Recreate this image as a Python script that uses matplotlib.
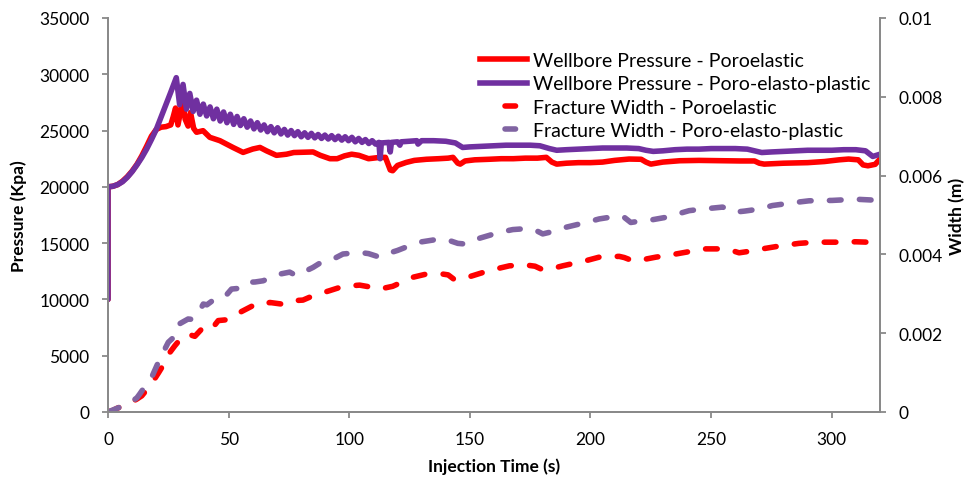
import matplotlib
matplotlib.use("Agg")
import matplotlib.pyplot as plt
from matplotlib.lines import Line2D

plt.rcParams['font.family'] = ['Lato', 'DejaVu Sans']

# ---- wellbore pressure, poroelastic model (s, kPa)
t_p_poro = [0, 0, 2, 4, 6, 8, 10, 12, 14, 16, 18, 20, 22, 24, 26, 27, 28, 29,
            30.9, 32, 33.2, 34.2, 35.5, 36.7, 39.4, 42.2, 46.4, 51.8, 56, 60, 63,
            65.7, 69.8, 74, 77, 85, 88, 92, 95, 98, 101, 104, 108, 112, 115, 117,
            118, 120, 123.6, 127, 132, 137, 141, 143, 145, 146, 148, 152, 158, 163,
            168, 173, 178, 181.7, 184, 186, 190, 195, 200, 205, 210, 216, 221, 223,
            225, 230, 237, 245, 255, 262, 268, 270, 272, 280, 290, 297, 303, 307,
            311, 313, 315, 318, 320]
p_poro = [10000, 20000, 20050, 20200, 20500, 20900, 21400, 22000, 22750, 23600,
          24500, 25100, 25300, 25350, 25500, 26200, 27000, 25500, 27650, 26000,
          25400, 26600, 25200, 24850, 24990, 24400, 24100, 23500, 23060, 23360,
          23500, 23200, 22800, 22900, 23050, 23100, 22800, 22500, 22500, 22750,
          22900, 22800, 22500, 22600, 22620, 21500, 21430, 21900, 22170, 22350,
          22450, 22500, 22550, 22620, 22100, 22020, 22300, 22400, 22450, 22500,
          22500, 22550, 22550, 22620, 22200, 22020, 22100, 22150, 22150, 22200,
          22350, 22470, 22450, 22200, 22020, 22200, 22320, 22350, 22320, 22300,
          22300, 22100, 22020, 22100, 22150, 22250, 22400, 22470, 22400, 21950,
          21870, 22000, 22470]

# ---- wellbore pressure, poro-elasto-plastic model (s, kPa)
t_p_pep = [0, 0, 2, 4, 6, 8, 10, 12, 14, 16, 18, 20, 22, 24, 26,
           28.3, 29.7, 31.1, 32.5, 33.9, 35.3, 36.7, 38.1, 39.5, 40.9, 42.3, 43.7,
           45.1, 46.5, 47.9, 49.3, 50.7, 52.1, 53.5, 54.9, 56.3, 57.7, 59.1, 60.5,
           61.9, 63.3, 64.7, 66.1, 67.5, 68.9, 70.3, 71.7, 73.1, 74.5, 75.9, 77.3,
           78.7, 80.1, 81.5, 82.9, 84.3, 85.7, 87.1, 88.5, 89.9, 91.3, 92.7, 94.1,
           95.5, 96.9, 98.3, 99.7, 101.1, 102.5, 103.9, 105.3, 106.7, 108.1, 109.5,
           110.9, 112.3, 112.8, 113.3, 116.5, 117.0, 117.5, 120, 121, 121.5, 125,
           128, 128.5, 130, 135, 140, 144, 147, 150, 155, 160, 165, 170, 175, 179,
           183, 186, 190, 195, 200, 205, 210, 215, 220, 223, 226, 230, 235, 240,
           245, 250, 255, 260, 265, 268, 271, 275, 280, 285, 290, 295, 300, 305,
           310, 314, 317, 320]
p_pep = [10000, 20000, 20050, 20200, 20450, 20850, 21350, 21950, 22600, 23350,
         24200, 25100, 26200, 27300, 28400,
         29700, 27300, 29100, 26900, 28300, 26700, 27700, 26450, 27350, 26300,
         27100, 26050, 26900, 25850, 26650, 25700, 26450, 25550, 26250, 25450,
         26050, 25300, 25850, 25150, 25700, 25050, 25500, 24900, 25350, 24800,
         25250, 24700, 25100, 24600, 25000, 24550, 24900, 24450, 24800, 24400,
         24750, 24350, 24650, 24300, 24600, 24250, 24550, 24200, 24500, 24150,
         24450, 24100, 24400, 24000, 24300, 23950, 24200, 23850, 24100, 23800,
         23950, 22500, 23900, 23950, 23100, 23950, 24000, 23700, 24000, 24050,
         24100, 23800, 24100, 24100, 24050, 23900, 23500, 23550, 23600, 23650,
         23700, 23700, 23700, 23650, 23400, 23250, 23300, 23350, 23400, 23450,
         23450, 23450, 23400, 23250, 23150, 23200, 23300, 23350, 23350, 23400,
         23400, 23400, 23350, 23200, 23050, 23100, 23150, 23200, 23250, 23250,
         23250, 23300, 23300, 23200, 22700, 22900]

# ---- fracture width, poroelastic model (s, m)
t_w_poro = [0, 2, 4, 6, 8, 10, 12, 14, 16, 18.8, 21, 23.6, 25.5, 27.7, 30, 32.6,
            34, 36, 39.5, 42.9, 45.7, 49.1, 51.9, 56, 60.1, 64.3, 67, 71.9, 75.3,
            80.8, 85, 91.9, 96, 100, 104.3, 108, 112.6, 118, 122, 126.4, 131.9,
            138.8, 141, 143.6, 147, 151.2, 158, 166.4, 173.3, 177, 180.2, 184,
            188.5, 198.1, 203.6, 211.9, 214, 217.4, 222, 227.1, 232.6, 240.9,
            247.8, 256.1, 258, 261.6, 266, 271.2, 278.1, 286.4, 293.3, 301.6, 310,
            320]
w_poro = [0, 0.00004, 0.0001, 0.00015, 0.0002, 0.00026, 0.00033, 0.00041,
          0.00056, 0.00079, 0.001, 0.00126, 0.0015, 0.00168, 0.00185, 0.00198,
          0.00196, 0.00192, 0.00215, 0.0021, 0.00232, 0.00234, 0.00244, 0.00257,
          0.0027, 0.0027, 0.00278, 0.00274, 0.00282, 0.00284, 0.00295, 0.00308,
          0.00316, 0.0032, 0.00322, 0.00318, 0.00312, 0.00319, 0.0033, 0.00342,
          0.0035, 0.0035, 0.00348, 0.00336, 0.00338, 0.00346, 0.00359, 0.00371,
          0.00373, 0.0037, 0.00361, 0.00364, 0.00371, 0.00384, 0.00393, 0.00395,
          0.00392, 0.00384, 0.00387, 0.00393, 0.00398, 0.00407, 0.00414, 0.00414,
          0.00411, 0.00404, 0.00408, 0.00414, 0.00421, 0.00428, 0.00431, 0.00431,
          0.00432, 0.0043]

# ---- fracture width, poro-elasto-plastic model (s, m)
t_w_pep = [0, 2, 4, 6, 8, 10, 12, 13.2, 15, 18.1, 21.5, 25, 27.3, 28, 28.4, 30,
           33.2, 35, 38, 39.5, 41, 44.3, 48.4, 51.2, 54.6, 57.4, 61, 64.3, 67.8,
           71.2, 75.3, 78.1, 81, 85, 88.4, 93.3, 97.4, 104.3, 108, 112.6, 115.3,
           120, 125, 129.1, 137.4, 141.6, 145, 148.5, 154, 162.3, 167.8, 174.7,
           177, 180.2, 183, 189.9, 198.1, 203.6, 211.9, 214, 216.7, 220, 225.7,
           231.2, 240.9, 246.4, 254.7, 257, 259.5, 264, 269.9, 275.4, 285.1, 290.6,
           300.2, 310, 320]
w_pep = [0, 0.00005, 0.0001, 0.00015, 0.0002, 0.00027, 0.00036, 0.00046,
         0.00062, 0.00088, 0.00135, 0.00177, 0.0019, 0.0021, 0.00219, 0.00225,
         0.00236, 0.00235, 0.00257, 0.00274, 0.00272, 0.00287, 0.00292, 0.00312,
         0.00314, 0.00329, 0.0033, 0.00333, 0.00342, 0.0035, 0.00355, 0.00346,
         0.00355, 0.00367, 0.0038, 0.00388, 0.00401, 0.00405, 0.00402, 0.00393,
         0.00401, 0.0041, 0.00422, 0.00431, 0.00439, 0.00435, 0.00428, 0.00426,
         0.00441, 0.00456, 0.00463, 0.00466, 0.00462, 0.00452, 0.00456, 0.00469,
         0.00481, 0.0049, 0.00498, 0.00494, 0.00481, 0.00484, 0.00488, 0.00494,
         0.00511, 0.00515, 0.0052, 0.00516, 0.00507, 0.0051, 0.00515, 0.00524,
         0.00532, 0.00536, 0.00537, 0.0054, 0.00537]

x_ticks = [0, 50, 100, 150, 200, 250, 300]
p_ticks = [0, 5000, 10000, 15000, 20000, 25000, 30000, 35000]
w_ticks = [0, 0.002, 0.004, 0.006, 0.008, 0.01]
w_tick_labels = ['0', '0.002', '0.004', '0.006', '0.008', '0.01']

labels = ['Wellbore Pressure - Poroelastic',
          'Wellbore Pressure - Poro-elasto-plastic',
          'Fracture Width - Poroelastic',
          'Fracture Width - Poro-elasto-plastic']

RED = '#FF0000'
PURPLE = '#7030A0'
LAVENDER = '#8064A2'
GRAY = '#898989'
LW = 4.0
DASH = (0, (2.1, 3.3))

fig = plt.figure(figsize=(9.73, 4.81), dpi=100)
ax = fig.add_axes([0.111, 0.1414, 0.7934, 0.8191])
ax2 = ax.twinx()

ax.plot(t_p_poro, p_poro, color=RED, lw=LW, solid_joinstyle='round',
        solid_capstyle='round')
ax.plot(t_p_pep, p_pep, color=PURPLE, lw=LW, solid_joinstyle='round',
        solid_capstyle='round')
ax2.plot(t_w_poro, w_poro, color=RED, lw=LW, linestyle=DASH,
         dash_capstyle='round', dash_joinstyle='round')
ax2.plot(t_w_pep, w_pep, color=LAVENDER, lw=LW, linestyle=DASH,
         dash_capstyle='round', dash_joinstyle='round')

ax.set_xlim(0, 320)
ax.set_ylim(0, 35000)
ax2.set_ylim(0, 0.01)
ax.set_xticks(x_ticks)
ax.set_yticks(p_ticks)
ax2.set_yticks(w_ticks)
ax2.set_yticklabels(w_tick_labels)

for a in (ax, ax2):
    a.spines['top'].set_visible(False)
    for s in ('left', 'right', 'bottom'):
        a.spines[s].set_color(GRAY)
        a.spines[s].set_linewidth(1.3)
    a.tick_params(colors=GRAY, labelcolor='black', labelsize=12.5,
                  length=4.5, width=1.3, direction='out', pad=9)

ax.set_xlabel('Injection Time (s)', fontsize=12.5, fontweight='bold', labelpad=8)
ax.set_ylabel('Pressure (Kpa)', fontsize=12.5, fontweight='bold', labelpad=9)
ax2.set_ylabel('Width (m)', fontsize=12.5, fontweight='bold', labelpad=4)

handles = [
    Line2D([], [], color=RED, lw=LW),
    Line2D([], [], color=PURPLE, lw=LW),
    Line2D([], [], color=RED, lw=LW, linestyle=(5.4, (1.9, 8.0)),
           dash_capstyle='round'),
    Line2D([], [], color=LAVENDER, lw=LW, linestyle=(5.4, (1.9, 8.0)),
           dash_capstyle='round'),
]
ax2.legend(handles, labels, loc='upper right', bbox_to_anchor=(0.895, 0.89),
           bbox_transform=fig.transFigure, frameon=False, fontsize=14,
           handlelength=2.4, handletextpad=0.35, labelspacing=0.33,
           borderaxespad=0, borderpad=0)

fig.savefig('out.png', dpi=100)
